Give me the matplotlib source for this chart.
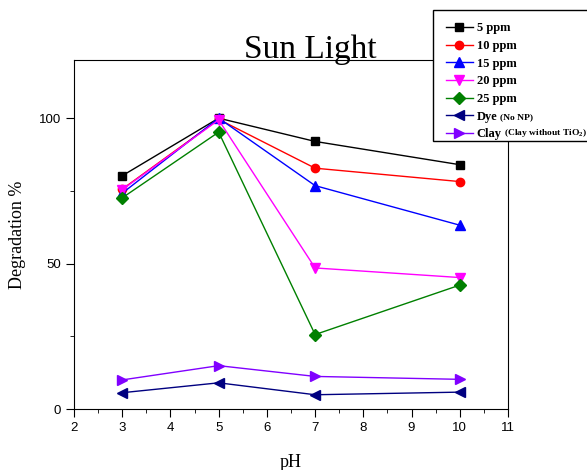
import numpy as np
import matplotlib.pyplot as plt
from matplotlib.patches import Rectangle
from matplotlib.ticker import MultipleLocator

ph = [3, 5, 7, 10]
ppm5 = [80.2, 100.0, 92.0, 84.0]
ppm10 = [75.6, 99.6, 82.8, 78.2]
ppm15 = [74.2, 100.0, 76.8, 63.2]
ppm20 = [75.4, 99.4, 48.5, 45.2]
ppm25 = [72.6, 95.2, 25.6, 42.6]
dye = [5.6, 9.0, 4.9, 5.8]
clay = [10.0, 14.9, 11.2, 10.2]

series = [
    ("5 ppm", ppm5, "black", "s"),
    ("10 ppm", ppm10, "red", "o"),
    ("15 ppm", ppm15, "blue", "^"),
    ("20 ppm", ppm20, "magenta", "v"),
    ("25 ppm", ppm25, "#008000", "D"),
    ("Dye", dye, "#000080", "<"),
    ("Clay", clay, "#8000FF", ">"),
]
extra = {"Dye": "(No NP)", "Clay": "(Clay without TiO$_\\mathregular{2}$)"}

W, H = 587, 470
fig = plt.figure(figsize=(W/100, H/100), dpi=100)
ax = fig.add_axes([74/W, 61/H, 434/W, 349/H])

for name, vals, col, mk in series:
    ms = 6 if mk in "sDo" else 7
    ax.plot(ph, vals, color=col, marker=mk, markersize=ms, linewidth=1, label=name)

ax.set_xlim(2, 11)
ax.set_ylim(0, 120)
ax.xaxis.set_major_locator(MultipleLocator(1))
ax.xaxis.set_minor_locator(MultipleLocator(0.5))
ax.yaxis.set_major_locator(MultipleLocator(50))
ax.yaxis.set_minor_locator(MultipleLocator(25))
ax.tick_params(which="both", direction="out", top=False, right=False)
ax.tick_params(which="major", length=6, labelsize=9.5)
ax.tick_params(which="minor", length=3)
for lab in ax.get_xticklabels() + ax.get_yticklabels():
    lab.set_family("Liberation Sans")

serif = "Liberation Serif"
ax.set_xlabel("pH", family=serif, fontsize=13, labelpad=14)
ax.set_ylabel("Degradation %", family=serif, fontsize=13, labelpad=9)
fig.text(310/W, 1 - 50/H, "Sun Light", family=serif, fontsize=24,
         ha="center", va="center")

# legend box runs off the right edge in the original, so draw the frame by hand
fig.patches.append(Rectangle((433/W, 1 - 141/H), 180/W, 131/H, transform=fig.transFigure,
                             facecolor="white", edgecolor="black", linewidth=1,
                             zorder=4))
leg = fig.legend(loc="upper left", bbox_to_anchor=(433/W, 1 - 10/H),
                 prop={"family": serif, "weight": "bold", "size": 9},
                 frameon=False, handlelength=2.2, labelspacing=0.45, borderpad=1.0,
                 handletextpad=0.3, borderaxespad=0)
leg.set_zorder(5)

fig.canvas.draw()
r = fig.canvas.get_renderer()
for t in leg.get_texts():
    s = t.get_text()
    if s in extra:
        bb = t.get_window_extent(r)
        fig.text((bb.x1 + 2) / W, (bb.y0 + 1) / H, extra[s],
                 family=serif, weight="bold", fontsize=6.8, ha="left", va="bottom",
                 zorder=6)

fig.savefig("out.png", dpi=100)
